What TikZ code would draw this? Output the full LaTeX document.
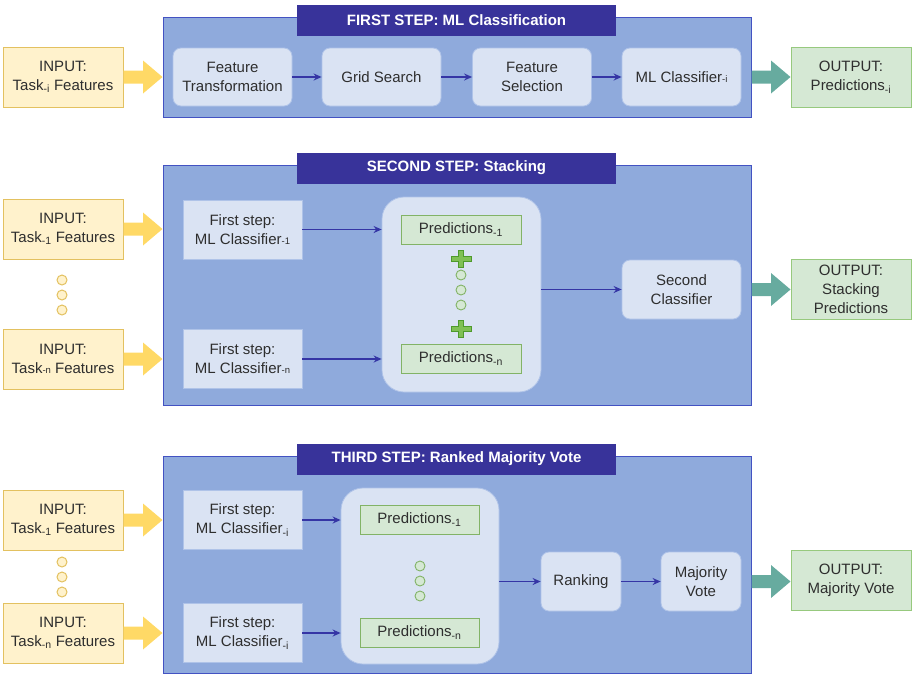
\documentclass[tikz,border=0pt]{standalone}
\usepackage{fontspec}
\setmainfont{Liberation Sans}
\usetikzlibrary{arrows.meta,calc}

\definecolor{stagefill}{HTML}{8FAADC}
\definecolor{stageline}{HTML}{4352C2}
\definecolor{titlefill}{HTML}{38339A}
\definecolor{procfill}{HTML}{DAE3F3}
\definecolor{procline}{HTML}{AFC3E8}
\definecolor{infill}{HTML}{FFF2CC}
\definecolor{inedge}{HTML}{E3C160}
\definecolor{outfill}{HTML}{D5E8D4}
\definecolor{outedge}{HTML}{97C97E}
\definecolor{predline}{HTML}{82B366}
\definecolor{inarrow}{HTML}{FFD966}
\definecolor{outarrow}{HTML}{67AB9F}
\definecolor{linkcol}{HTML}{3535A5}
\definecolor{plusfill}{HTML}{80C055}
\definecolor{plusline}{HTML}{4E9A2C}

\newcommand{\boxfont}{\fontsize{15}{19}\selectfont}
\newcommand{\lowtag}[1]{{\fontsize{9.5}{9.5}\selectfont#1}}

% wide block arrow: shaft, then head ending at the second point
\newcommand{\fatarrow}[3]{%
  \fill[#3] let \p1=(#1), \p2=(#2) in
    (\x1,\y1+6.5pt) -- ({(\x1+\x2)/2},\y1+6.5pt) -- ({(\x1+\x2)/2},\y1+16.5pt)
    -- (\x2,\y1) -- ({(\x1+\x2)/2},\y1-16.5pt) -- ({(\x1+\x2)/2},\y1-6.5pt)
    -- (\x1,\y1-6.5pt) -- cycle;}

\tikzset{
  base/.style={inner sep=0pt, align=center, font=\boxfont, text=black!82},
  sz/.style 2 args={minimum width=#1pt, minimum height=#2pt},
  stage/.style={draw=stageline, fill=stagefill, line width=1pt},
  titlebar/.style={inner sep=0pt, fill=titlefill, text=white, font=\bfseries\boxfont},
  inbox/.style={base, draw=inedge, fill=infill, line width=1pt},
  outbox/.style={base, draw=outedge, fill=outfill, line width=1pt},
  proc/.style={base, draw=procline, fill=procfill, rounded corners=8pt, line width=0.8pt},
  flatbox/.style={base, draw=procline, fill=procfill, line width=0.8pt},
  holder/.style={draw=procline, fill=procfill, rounded corners=22pt, line width=0.8pt},
  pred/.style={base, draw=predline, fill=outfill, line width=1pt},
  link/.style={draw=linkcol, line width=1.5pt, -{Stealth[length=8pt,width=7pt]}},
  ydot/.style={circle, draw=inedge, fill=infill, minimum size=10pt, inner sep=0pt, line width=1pt},
  gdot/.style={circle, draw=predline, fill=outfill, minimum size=10pt, inner sep=0pt, line width=0.9pt},
  plusmark/.pic={
    \filldraw[fill=plusfill, draw=plusline, line width=0.8pt]
      (-10,-2.5) -- (-2.5,-2.5) -- (-2.5,-8.5) -- (2.5,-8.5) -- (2.5,-2.5) -- (10,-2.5)
      -- (10,2.5) -- (2.5,2.5) -- (2.5,8.5) -- (-2.5,8.5) -- (-2.5,2.5) -- (-10,2.5) -- cycle;
  }
}

\begin{document}
\begin{tikzpicture}[x=1pt, y=-1pt]
\useasboundingbox (0,0) rectangle (912,675);

% ---------- first step ----------
\node[stage, sz={588}{100}] (stage1) at (457,67) {};
\node[titlebar, sz={319}{31}] (title1) at (456.5,20.5) {FIRST STEP: ML Classification};
\node[inbox, sz={120}{60}] (in0) at (63,77) {INPUT:\\Task\textsubscript{-i} Features};
\node[proc, sz={119}{58}] (ft) at (232.5,77) {Feature\\Transformation};
\node[proc, sz={119}{58}] (gs) at (381.5,77) {Grid Search};
\node[proc, sz={119}{58}] (fs) at (532,77) {Feature\\Selection};
\node[proc, sz={119}{58}] (mlc) at (681.5,77) {ML Classifier\lowtag{-i}};
\node[outbox, sz={120}{60}] (out0) at (851,77) {OUTPUT:\\Predictions\textsubscript{-i}};
\draw[link] (ft) -- (gs);
\draw[link] (gs) -- (fs);
\draw[link] (fs) -- (mlc);
\fatarrow{in0.east}{in0.east -| stage1.west}{inarrow}
\fatarrow{mlc.east -| stage1.east}{out0.west}{outarrow}

% ---------- second step ----------
\node[stage, sz={588}{240}] (stage2) at (457,285) {};
\node[titlebar, sz={319}{31}] (title2) at (456.5,168) {SECOND STEP: Stacking};
\node[inbox, sz={120}{60}] (in1) at (63,229) {INPUT:\\Task\textsubscript{-1} Features};
\node[inbox, sz={120}{60}] (inN) at (63,359) {INPUT:\\Task\lowtag{-n} Features};
\node[ydot] (ya1) at (62,280) {};
\node[ydot] (ya2) at (62,295) {};
\node[ydot] (ya3) at (62,310) {};
\node[flatbox, sz={119}{59}] (fc1) at (242.5,229.5) {First step:\\ML Classifier\lowtag{-1}};
\node[flatbox, sz={119}{59}] (fcN) at (242.5,359) {First step:\\ML Classifier\lowtag{-n}};
\node[holder, sz={159}{195}] (hold2) at (461.5,294.5) {};
\node[pred, sz={120}{29}] (p1) at (461,229.5) {Predictions\textsubscript{-1}};
\node[pred, sz={120}{29}] (pN) at (461,358.5) {Predictions\textsubscript{-n}};
\pic (plusA) at (461,259) {plusmark};
\pic (plusB) at (461,329) {plusmark};
\node[gdot] (ga1) at (461,275) {};
\node[gdot] (ga2) at (461,290) {};
\node[gdot] (ga3) at (461,305) {};
\node[proc, sz={119}{59}] (sc) at (681.5,289.5) {Second\\Classifier};
\node[outbox, sz={120}{60}] (out2) at (851,289.5) {OUTPUT:\\Stacking\\Predictions};
\draw[link] (fc1.east) -- (fc1.east -| hold2.west);
\draw[link] (fcN.east) -- (fcN.east -| hold2.west);
\draw[link] (hold2.east |- sc.west) -- (sc.west);
\fatarrow{in1.east}{in1.east -| stage2.west}{inarrow}
\fatarrow{inN.east}{inN.east -| stage2.west}{inarrow}
\fatarrow{sc.east -| stage2.east}{out2.west}{outarrow}

% ---------- third step ----------
\node[stage, sz={588}{217}] (stage3) at (457,564.5) {};
\node[titlebar, sz={319}{31}] (title3) at (456.5,459) {THIRD STEP: Ranked Majority Vote};
\node[inbox, sz={120}{60}] (in3a) at (63,520) {INPUT:\\Task\textsubscript{-1} Features};
\node[inbox, sz={120}{60}] (in3n) at (63,633) {INPUT:\\Task\textsubscript{-n} Features};
\node[ydot] (yb1) at (62,562) {};
\node[ydot] (yb2) at (62,577) {};
\node[ydot] (yb3) at (62,592) {};
\node[flatbox, sz={119}{59}] (fd1) at (242.5,520) {First step:\\ML Classifier\textsubscript{-i}};
\node[flatbox, sz={119}{59}] (fdN) at (242.5,633) {First step:\\ML Classifier\textsubscript{-i}};
\node[holder, sz={158}{176}] (hold3) at (420,576) {};
\node[pred, sz={119}{29}] (q1) at (419.5,519.5) {Predictions\textsubscript{-1}};
\node[pred, sz={119}{29}] (qN) at (419.5,632.5) {Predictions\textsubscript{-n}};
\node[gdot] (gb1) at (420,566) {};
\node[gdot] (gb2) at (420,581) {};
\node[gdot] (gb3) at (420,596) {};
\node[proc, sz={80}{59}] (rk) at (581,581.5) {Ranking};
\node[proc, sz={80}{59}] (mv) at (701,581.5) {Majority\\Vote};
\node[outbox, sz={120}{60}] (out3) at (851,580) {OUTPUT:\\Majority Vote};
\draw[link] (fd1.east) -- (fd1.east -| hold3.west);
\draw[link] (fdN.east) -- (fdN.east -| hold3.west);
\draw[link] (hold3.east |- rk.west) -- (rk.west);
\draw[link] (rk) -- (mv);
\fatarrow{in3a.east}{in3a.east -| stage3.west}{inarrow}
\fatarrow{in3n.east}{in3n.east -| stage3.west}{inarrow}
\fatarrow{mv.east -| stage3.east}{out3.west}{outarrow}
\end{tikzpicture}
\end{document}
